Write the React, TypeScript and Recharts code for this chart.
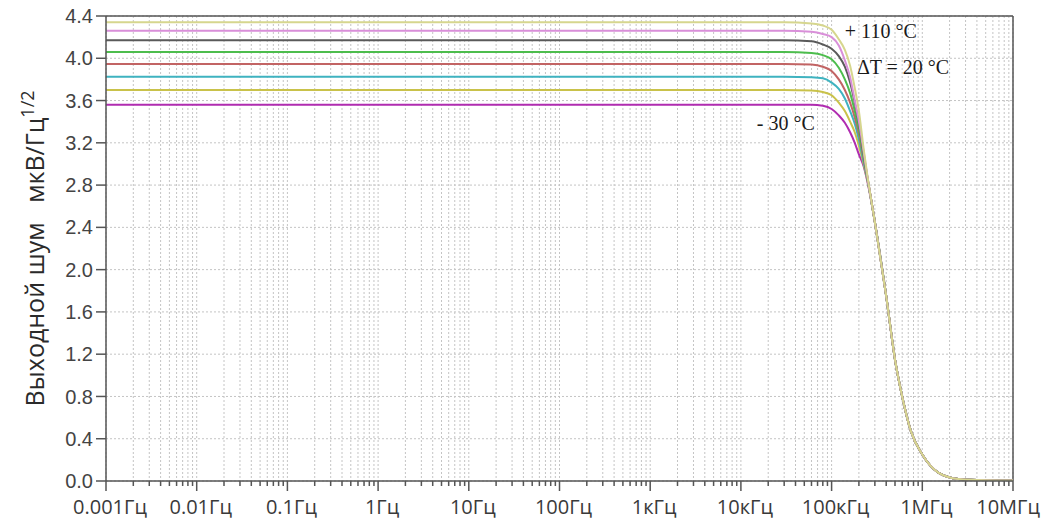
import React from 'react';
import { LineChart, Line, XAxis, YAxis, CartesianGrid, ReferenceLine, ReferenceDot } from 'recharts';

// Frequency grid (Hz) shared by every temperature curve
const freqs = [0.001, 3e4, 6e4, 8e4, 1e5, 1.2e5, 1.4e5, 1.6e5, 1.8e5, 2e5, 2.25e5, 2.5e5, 3e5, 4e5, 5e5, 6e5, 7.5e5, 1e6, 1.5e6, 2.5e6, 5e6, 1e7];

// Output noise, µV/Hz^1/2, from -30 °C up to +110 °C in 20 °C steps
const tM30 = [3.56, 3.56, 3.56, 3.55, 3.52, 3.46, 3.39, 3.30, 3.20, 3.09, 2.98, 2.82, 2.45, 1.75, 1.15, 0.80, 0.47, 0.25, 0.08, 0.02, 0.008, 0.005];
const tM10 = [3.70, 3.70, 3.695, 3.68, 3.65, 3.58, 3.50, 3.40, 3.30, 3.17, 3.00, 2.83, 2.45, 1.75, 1.15, 0.80, 0.47, 0.25, 0.08, 0.02, 0.008, 0.005];
const tP10 = [3.825, 3.825, 3.82, 3.81, 3.77, 3.71, 3.62, 3.50, 3.38, 3.23, 3.02, 2.84, 2.45, 1.75, 1.15, 0.80, 0.47, 0.25, 0.08, 0.02, 0.008, 0.005];
const tP30 = [3.945, 3.945, 3.94, 3.92, 3.88, 3.80, 3.70, 3.58, 3.44, 3.28, 3.05, 2.85, 2.45, 1.75, 1.15, 0.80, 0.47, 0.25, 0.08, 0.02, 0.008, 0.005];
const tP50 = [4.06, 4.06, 4.05, 4.03, 3.99, 3.91, 3.80, 3.67, 3.50, 3.32, 3.07, 2.85, 2.45, 1.75, 1.15, 0.80, 0.47, 0.25, 0.08, 0.02, 0.008, 0.005];
const tP70 = [4.17, 4.17, 4.16, 4.13, 4.09, 4.02, 3.92, 3.77, 3.58, 3.38, 3.10, 2.86, 2.45, 1.75, 1.15, 0.80, 0.47, 0.25, 0.08, 0.02, 0.008, 0.005];
const tP90 = [4.26, 4.26, 4.25, 4.23, 4.20, 4.12, 3.98, 3.82, 3.60, 3.40, 3.12, 2.86, 2.45, 1.75, 1.15, 0.80, 0.47, 0.25, 0.08, 0.02, 0.008, 0.005];
const tP110 = [4.34, 4.34, 4.33, 4.31, 4.27, 4.18, 4.08, 3.93, 3.72, 3.50, 3.15, 2.87, 2.45, 1.75, 1.15, 0.80, 0.47, 0.25, 0.08, 0.02, 0.008, 0.005];

const seriesKeys = ['tM30', 'tM10', 'tP10', 'tP30', 'tP50', 'tP70', 'tP90', 'tP110'];
const seriesValues = [tM30, tM10, tP10, tP30, tP50, tP70, tP90, tP110];
const seriesColors = ['#b02cb0', '#c9c24a', '#3fb3c0', '#c26464', '#4dbd4d', '#5a5a5a', '#d98fd9', '#d6d68e'];

// Axis ticks
const decades = [1e-3, 1e-2, 1e-1, 1, 10, 100, 1e3, 1e4, 1e5, 1e6, 1e7];
const decadeLabels = ['0.001Гц', '0.01Гц', '0.1Гц', '1Гц', '10Гц', '100Гц', '1кГц', '10кГц', '100кГц', '1МГц', '10МГц'];
const minorSteps = [2, 3, 4, 5, 6, 7, 8, 9];
const yTicks = [0, 0.4, 0.8, 1.2, 1.6, 2.0, 2.4, 2.8, 3.2, 3.6, 4.0, 4.4];

// Annotations: [frequency, level, text]
const notes: [number, number, string][] = [
  [1.4e5, 4.19, '+ 110 °C'],
  [1.9e5, 3.85, 'ΔT = 20 °C'],
  [1.5e4, 3.32, '- 30 °C'],
];

const xTicks: number[] = [];
decades.forEach((d, i) => {
  xTicks.push(d);
  if (i < decades.length - 1) minorSteps.forEach((m) => xTicks.push(d * m));
});

const data = freqs.map((f, i) => {
  const row: Record<string, number> = { f };
  seriesKeys.forEach((k, j) => {
    row[k] = seriesValues[j][i];
  });
  return row;
});

const AXIS = '#555';

const XTick = (props: any) => {
  const { x, y, payload } = props;
  const v = payload.value;
  const idx = decades.findIndex((d) => Math.abs(d - v) / d < 1e-6);
  const major = idx >= 0;
  const last = idx === decades.length - 1;
  return (
    <g>
      <line x1={x} x2={x} y1={y} y2={y + (major ? 10 : 5)} stroke={AXIS} strokeWidth={1.5} />
      {major && (
        <text
          x={last ? x + 27 : x + 4}
          y={y + 33}
          textAnchor={last ? 'end' : 'middle'}
          fill="#3a3a3a"
          fontSize={20}
          fontFamily="'Open Sans', sans-serif"
        >
          {decadeLabels[idx]}
        </text>
      )}
    </g>
  );
};

const YTitle = (props: any) => {
  const vb = props.viewBox || {};
  const cx = vb.x - 2;
  const cy = vb.y + vb.height / 2;
  return (
    <text
      x={cx}
      y={cy}
      transform={`rotate(-90, ${cx}, ${cy})`}
      textAnchor="middle"
      fill="#2a2a2a"
      fontSize={25}
      fontFamily="'Open Sans', sans-serif"
      style={{ whiteSpace: 'pre' }}
    >
      {'Выходной шум   мкВ/Гц'}
      <tspan dy={-10} fontSize={18}>1/2</tspan>
    </text>
  );
};

const NoteShape = (text: string) => (props: any) => (
  <text x={props.cx} y={props.cy} fill="#1a1a1a" fontSize={20} fontFamily="'Liberation Serif', 'Times New Roman', serif">
    {text}
  </text>
);

export default function App() {
  return (
    <div style={{ position: 'absolute', left: 0, top: 0, background: '#fff' }}>
      <LineChart width={1045} height={523} data={data} margin={{ top: 16, right: 32, bottom: 2, left: 46 }}>
        <CartesianGrid stroke="#c4c4c4" strokeDasharray="2 2" />
        <XAxis
          dataKey="f"
          type="number"
          scale="log"
          domain={[1e-3, 1e7]}
          ticks={xTicks}
          interval={0}
          height={40}
          tickSize={0}
          tickMargin={0}
          tickLine={false}
          tick={<XTick />}
          axisLine={{ stroke: AXIS, strokeWidth: 1.5 }}
          allowDataOverflow
        />
        <YAxis
          type="number"
          domain={[0, 4.4]}
          ticks={yTicks}
          interval={0}
          width={60}
          tickSize={10}
          tickMargin={3}
          tickFormatter={(v: number) => v.toFixed(1)}
          tick={{ fill: '#444', fontSize: 20, fontFamily: "'Liberation Sans', Arial, sans-serif" }}
          tickLine={{ stroke: AXIS, strokeWidth: 1.5 }}
          axisLine={{ stroke: AXIS, strokeWidth: 1.5 }}
          label={YTitle}
          allowDataOverflow
        />
        <ReferenceLine y={4.4} stroke={AXIS} strokeWidth={1.5} ifOverflow="visible" />
        <ReferenceLine x={1e7} stroke={AXIS} strokeWidth={1.5} ifOverflow="visible" />
        {seriesKeys.map((k, j) => (
          <Line
            key={k}
            dataKey={k}
            type="monotone"
            stroke={seriesColors[j]}
            strokeWidth={2}
            dot={false}
            isAnimationActive={false}
          />
        ))}
        {notes.map(([f, v, t]) => (
          <ReferenceDot key={t} x={f} y={v} r={0} shape={NoteShape(t)} ifOverflow="visible" />
        ))}
      </LineChart>
    </div>
  );
}
